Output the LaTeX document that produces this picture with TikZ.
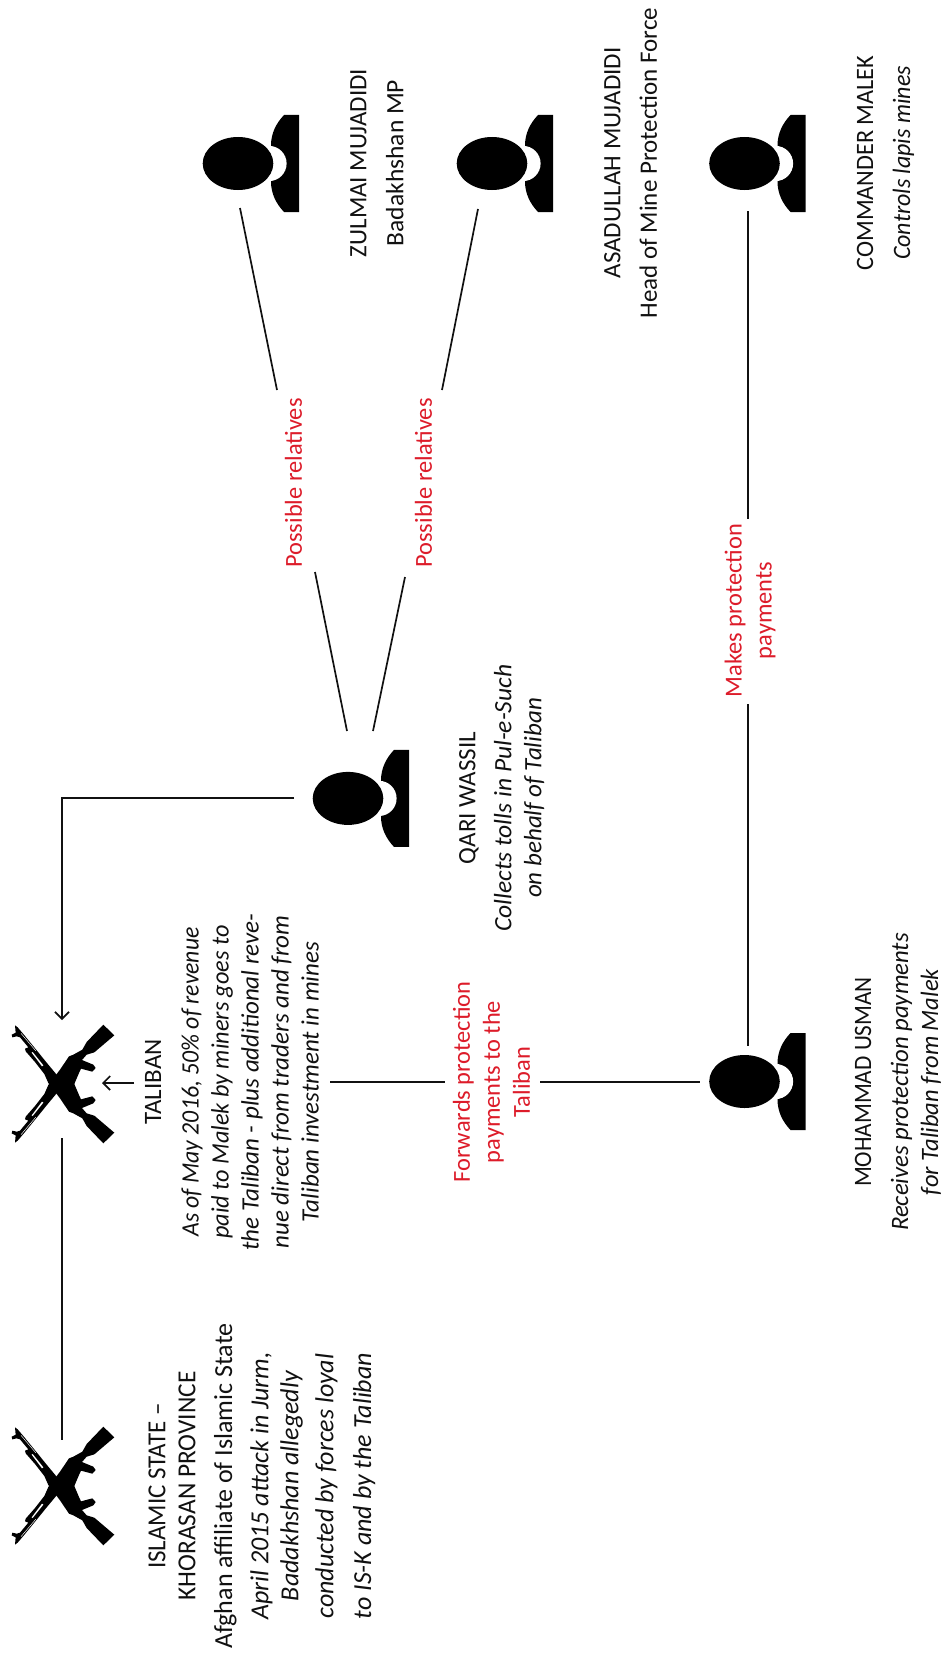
\documentclass[tikz,border=0pt]{standalone}
\usepackage{fontspec}
\setmainfont{Carlito}
\usetikzlibrary{arrows.meta,calc}
\definecolor{labelred}{HTML}{DD1C2A}
\definecolor{inkblack}{HTML}{111111}
\newcommand{\rifleshape}{%
  (30,22) -- (38,28) -- (55,48) -- (100,103) -- (125,134) -- (155,170) -- (165,182) -- (205,191)
  -- (222,231) -- (228,244) -- (262,235) -- (272,246) -- (265,256) -- (231,270) -- (245,286)
  -- (268,293) -- (328,344) -- (295,376) -- (245,324) -- (232,301) -- (205,286) -- (192,281)
  -- (165,241) -- (130,195) -- (118,168) -- (90,132) -- (62,100) -- (60,92) -- (70,88)
  -- (45,58) -- (35,55) -- (22,58) -- (20,50) -- (32,44) -- cycle}
\newcommand{\rifleslits}{%
  \fill[white] (80,104) -- (83,102) -- (115,142) -- (111,145) -- cycle;
  \draw[white,line width=0.45pt] (48,46) -- (92,98);}
\tikzset{
  every node/.style={text=inkblack,font=\fontsize{25}{30}\selectfont,inner sep=0pt},
  txt/.style={rotate=90,align=center},
  redtxt/.style={txt,text=labelred,font=\fontsize{24.4}{30}\selectfont},
  link/.style={draw=inkblack,line width=1.7pt},
  arrowlink/.style={link,-{Straight Barb[length=7pt,width=14pt,line width=1.7pt]}},
  iconbox/.style={minimum width=122pt,minimum height=97pt},
  personicon/.pic={
    \fill[black] (61,-48.5) -- (46,-48.5) .. controls (38,-40) and (33,-30) .. (33,-18)
      -- (33,18) .. controls (33,30) and (38,40) .. (46,48.5) -- (61,48.5) -- cycle;
    \fill[white] (31,0) circle[radius=17.6];
    \fill[black] (0,0) ellipse[x radius=35.3,y radius=26.5];
  },
  gunicon/.pic={
    \begin{scope}[x=0.3333pt,y=-0.3333pt,shift={(-165,-198)}]
      \fill[black] \rifleshape;
      \rifleslits
      \begin{scope}[yscale=-1,shift={(0,-396)}]
        \fill[black] \rifleshape;
        \rifleslits
      \end{scope}
    \end{scope}
  },
}
\newcommand{\sq}[2]{\scalebox{#1}[1]{#2}}
\begin{document}
\begin{tikzpicture}[x=1pt,y=-1pt]
\useasboundingbox (0,0) rectangle (946,1659);
\fill[white] (0,0) rectangle (946,1659);

% persons
\node[iconbox] (zulmai) at (238,163.5) {};
\node[iconbox] (asadullah) at (492,163.5) {};
\node[iconbox] (malek) at (744.5,163.5) {};
\node[iconbox] (qari) at (348,798.4) {};
\node[iconbox] (usman) at (744.5,1081.5) {};
\pic at (zulmai) {personicon};
\pic at (asadullah) {personicon};
\pic at (malek) {personicon};
\pic at (qari) {personicon};
\pic at (usman) {personicon};

% armed groups
\node[minimum width=100pt,minimum height=120pt] (taliban) at (60,1084) {};
\node[minimum width=100pt,minimum height=120pt] (isk) at (60,1486) {};
\pic at (taliban) {gunicon};
\pic at (isk) {gunicon};

% texts
\node[txt] (zulmaiT) at (377,163) {ZULMAI MUJADIDI\\[7pt]\sq{1.02}{Badakhshan MP}};
\node[txt] (asadullahT) at (630.5,163) {ASADULLAH MUJADIDI\\[6.5pt]Head of Mine Protection Force};
\node[txt] (malekT) at (885.6,163) {\sq{.97}{COMMANDER MALEK}\\[7pt]\sq{.96}{\itshape Controls lapis mines}};
\node[txt] (qariT) at (501.6,798) {QARI WASSIL\\[6pt]\sq{1.02}{\itshape Collects tolls in Pul-e-Such}\\\itshape on behalf of Taliban};
\node[txt] (usmanT) at (898,1082) {\sq{.93}{MOHAMMAD USMAN}\\[7pt]\sq{.99}{\itshape Receives protection payments}\\\sq{.98}{\itshape for Taliban from Malek}};
\node[txt] (talibanT) at (232,1082) {TALIBAN\\[7.6pt]\sq{.95}{\itshape As of May 2016, 50\% of revenue}\\\sq{.97}{\itshape paid to Malek by miners goes to}\\\itshape the Taliban - plus additional reve-\\\itshape nue direct from traders and from\\\itshape Taliban investment in mines};
\node[txt,font=\fontsize{26}{30}\selectfont] (iskT) at (262,1486) {\sq{.96}{ISLAMIC STATE --}\\\sq{.976}{KHORASAN PROVINCE}\\[6.7pt]Afghan affiliate of Islamic State\\[6.3pt]\itshape April 2015 attack in Jurm,\\\itshape Badakhshan allegedly\\[5pt]\itshape conducted by forces loyal\\[7.7pt]\itshape to IS-K and by the Taliban};

% connector labels
\node[redtxt] (rel1) at (293.5,483) {Possible relatives};
\node[redtxt] (rel2) at (423.5,483) {Possible relatives};
\node[redtxt] (pay) at (750,610.5) {Makes protection\\payments};
\node[redtxt] (fwd) at (491.6,1082) {Forwards protection\\payments to the\\Taliban};

% connector ends
\coordinate (zulmaiOut) at (240,208);
\coordinate (rel1A) at (277,390);
\coordinate (rel1B) at (315,572);
\coordinate (qariInA) at (347,731);
\coordinate (asadullahOut) at (478,209);
\coordinate (rel2A) at (442,390);
\coordinate (rel2B) at (405,577);
\coordinate (qariInB) at (373,731);
\coordinate (malekOut) at (748,211);
\coordinate (payA) at (748,519);
\coordinate (payB) at (748,704);
\coordinate (usmanIn) at (748,1046);
\coordinate (qariOut) at (294,797.7);
\coordinate (corner) at (62,797.7);
\coordinate (talibanTop) at (62,1020);
\coordinate (talibanBottom) at (62,1138);
\coordinate (iskTop) at (62,1440);
\coordinate (talibanTxtOut) at (134,1083);
\coordinate (talibanRight) at (102,1083);
\coordinate (talibanNote) at (330,1082.3);
\coordinate (fwdA) at (445,1082.3);
\coordinate (fwdB) at (540,1082.3);
\coordinate (usmanOut) at (700,1082.3);

% connectors
\draw[link] (zulmaiOut) -- (rel1A);
\draw[link] (rel1B) -- (qariInA);
\draw[link] (asadullahOut) -- (rel2A);
\draw[link] (rel2B) -- (qariInB);
\draw[link] (malekOut) -- (payA);
\draw[link] (payB) -- (usmanIn);
\draw[arrowlink] (qariOut) -- (corner) -- (talibanTop);
\draw[link] (talibanBottom) -- (iskTop);
\draw[arrowlink] (talibanTxtOut) -- (talibanRight);
\draw[link] (talibanNote) -- (fwdA);
\draw[link] (fwdB) -- (usmanOut);
\end{tikzpicture}
\end{document}
